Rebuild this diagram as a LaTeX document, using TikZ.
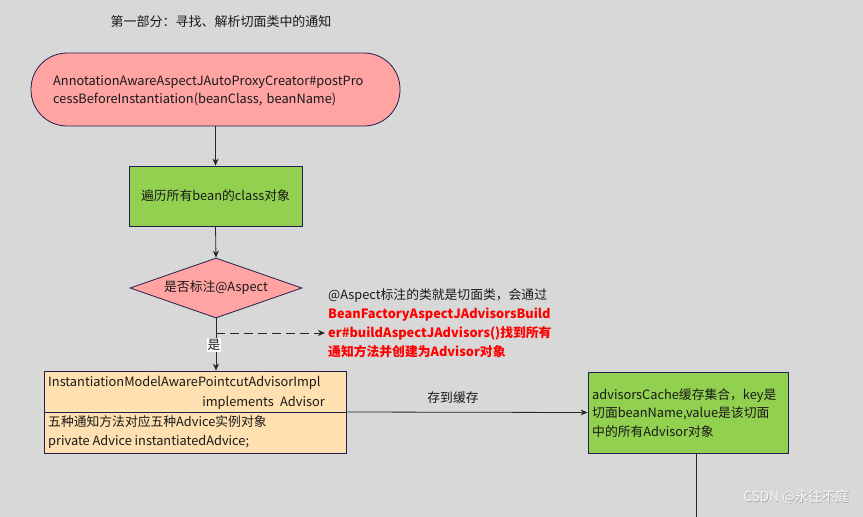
\documentclass[tikz,border=0pt]{standalone}
\usepackage{fontspec}
\setmainfont{Noto Sans CJK SC}
\usetikzlibrary{shapes.geometric,arrows.meta,calc}
\definecolor{bg}{HTML}{D8D8D8}
\definecolor{pinkf}{HTML}{FFA3A3}
\definecolor{greenf}{HTML}{92D050}
\definecolor{orangef}{HTML}{FFE0B0}
\definecolor{edge}{HTML}{20204F}
\definecolor{redt}{HTML}{FF0000}
\begin{document}
\begin{tikzpicture}[x=1pt,y=-1pt,
  every node/.style={font=\fontsize{12.8}{18.5}\selectfont, text=black!90},
  box/.style={draw=edge, line width=0.8pt, inner sep=0pt},
  term/.style={box, fill=pinkf, rounded corners=36pt, minimum width=369pt, minimum height=73pt},
  greenbox/.style={box, fill=greenf},
  clsbox/.style={box, fill=orangef, minimum width=302pt, minimum height=82pt},
  decide/.style={box, fill=pinkf, diamond, aspect=2.87, minimum width=172pt, minimum height=60pt},
  conn/.style={line width=0.8pt, draw=black!85},
  arr/.style={conn, -{Stealth[length=7pt,width=6pt]}},
  txt/.style={anchor=west, align=left, inner sep=0pt}
]
\fill[bg] (0,0) rectangle (863,517);
\useasboundingbox (0,0) rectangle (863,517);

\node[inner sep=0pt, font=\fontsize{13}{15}\selectfont] (title) at (221,22) {第一部分：寻找、解析切面类中的通知};

\node[term] (start) at (215.5,89.5) {};
\node[txt] (starttxt) at (53,91) {AnnotationAwareAspectJAutoProxyCreator\#postPro\\cessBeforeInstantiation(beanClass,\,\,beanName)};

\node[greenbox, minimum width=173pt, minimum height=60pt] (loop) at (215.5,196) {遍历所有bean的class对象};

\node[decide] (dec) at (216,288) {是否标注@Aspect};

\node[clsbox] (cls) at (195,412) {};
\draw[conn, draw=edge] (cls.west) -- (cls.east);
\node[txt] (clsname) at (48,383) {InstantiationModelAwarePointcutAdvisorImpl};
\node[anchor=east, inner sep=0pt] (clsimpl) at (325,403) {implements\,\,\,Advisor};
\node[txt] (clsbody) at (48,432) {五种通知方法对应五种Advice实例对象\\private Advice instantiatedAdvice;};

\node[greenbox, minimum width=200pt, minimum height=81pt] (cache) at (688,412.5) {};
\node[txt] (cachetxt) at (592,413) {advisorsCache缓存集合，key是\\切面beanName,value是该切面\\中的所有Advisor对象};

\node[txt, font=\fontsize{12.8}{19}\selectfont] (note) at (328,323.5) {@Aspect标注的类就是切面类，会通过\\
\textcolor{redt}{\bfseries BeanFactoryAspectJAdvisorsBuild}\\
\textcolor{redt}{\bfseries er\#buildAspectJAdvisors()找到所有}\\
\textcolor{redt}{\bfseries 通知方法并创建为Advisor对象}};

\coordinate (branch) at (216,333);
\coordinate (noteend) at (325,333);
\coordinate (bottomend) at (696,517);

\draw[arr] (start.south) -- (loop.north);
\draw[arr] (loop.south) -- (dec.north);
\draw[arr] (dec.south) -- (dec.south |- cls.north);
\draw[arr, dash pattern=on 9pt off 5pt] (branch) -- (noteend);
\node[fill=white, inner sep=1pt] (yes) at (214,345) {是};
\draw[arr] (cls.east) -- node[above=8pt, inner sep=0pt, xshift=-14pt] (store) {存到缓存} (cache.west);
\draw[conn] (cache.south -| bottomend) -- (bottomend);

\node[anchor=east, inner sep=0pt, text=white, font=\fontsize{13.5}{15}\selectfont] (wmshadow) at (849.7,497.7) {\textcolor{gray!70}{CSDN @永往不庭}};
\node[anchor=east, inner sep=0pt, text=white!95!gray, font=\fontsize{13.5}{15}\selectfont] (wm) at (849,497) {CSDN @永往不庭};
\end{tikzpicture}
\end{document}
